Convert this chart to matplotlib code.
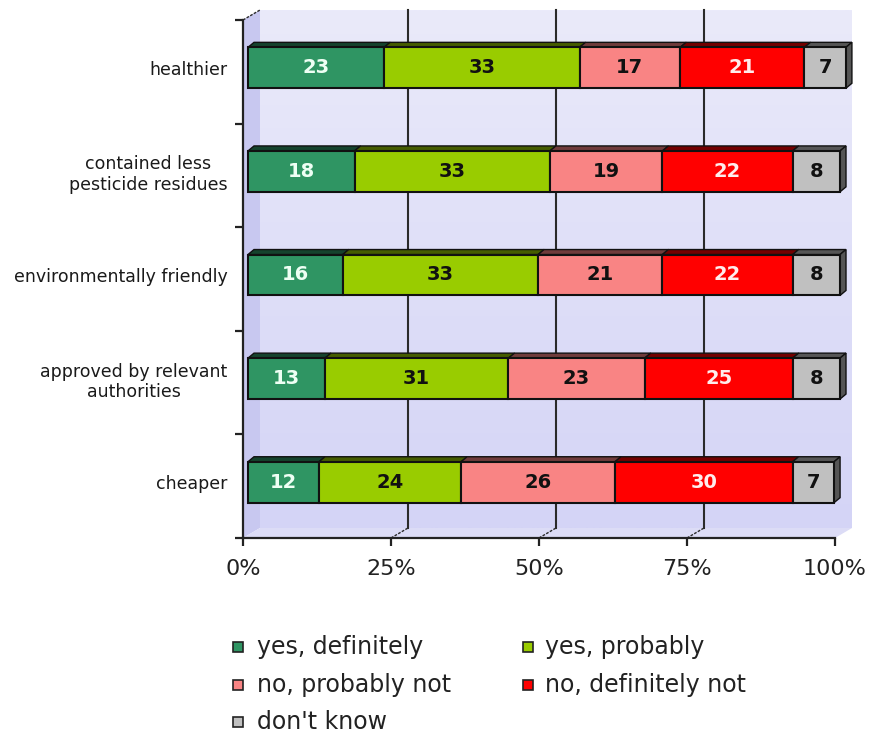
import numpy as np
import matplotlib

matplotlib.use("Agg")
import matplotlib.pyplot as plt
from matplotlib.patches import Polygon, Rectangle
from matplotlib.colors import to_rgb

# --- data -------------------------------------------------------------
categories = [
    "healthier",
    "contained less\npesticide residues",
    "environmentally friendly",
    "approved by relevant\nauthorities",
    "cheaper",
]
series_labels = [
    "yes, definitely",
    "yes, probably",
    "no, probably not",
    "no, definitely not",
    "don't know",
]
yes_definitely = [23, 18, 16, 13, 12]
yes_probably = [33, 33, 33, 31, 24]
no_probably_not = [17, 19, 21, 23, 26]
no_definitely_not = [21, 22, 22, 25, 30]
dont_know = [7, 8, 8, 8, 7]
x_ticks = [0, 25, 50, 75, 100]
x_tick_labels = ["0%", "25%", "50%", "75%", "100%"]

colors = ["#2f9563", "#99cc00", "#f98484", "#ff0000", "#c0c0c0"]
text_colors = ["#eefff4", "#111111", "#111111", "#ffecec", "#111111"]

# --- layout (pixel based) --------------------------------------------
W, H = 874, 733
X0, PX_PCT = 243.0, 5.92      # 0% of front axis, px per percent
Y0, PX_BAND = 20.0, 103.6     # top of front axis, px per category band
XLIM = (-5, 105)
YLIM = (5.2, -0.15)

fig = plt.figure(figsize=(W / 100, H / 100), dpi=100)
left_px = X0 + XLIM[0] * PX_PCT
right_px = X0 + XLIM[1] * PX_PCT
top_px = Y0 + YLIM[1] * PX_BAND
bot_px = Y0 + YLIM[0] * PX_BAND
ax = fig.add_axes([left_px / W, 1 - bot_px / H, (right_px - left_px) / W, (bot_px - top_px) / H])
ax.set_xlim(*XLIM)
ax.set_ylim(*YLIM)
ax.patch.set_visible(False)

n = len(categories)
# 3d offsets in data units
wall_dx, wall_dy = 17 / PX_PCT, -10 / PX_BAND
bar_dx, bar_dy = 5 / PX_PCT, -4 / PX_BAND
dep_dx, dep_dy = 6 / PX_PCT, -5 / PX_BAND
bar_h = 0.395

# back wall with a soft gradient
grad = np.linspace(0, 1, 256)[:, None]
top_c = np.array([234, 234, 250]) / 255
bot_c = np.array([212, 212, 246]) / 255
img = top_c[None, None, :] * (1 - grad[..., None]) + bot_c[None, None, :] * grad[..., None]
ax.imshow(img, extent=(wall_dx, 100 + wall_dx, n + wall_dy, wall_dy), aspect="auto", zorder=0)

# side wall and floor
ax.add_patch(Polygon([(0, 0), (wall_dx, wall_dy), (wall_dx, n + wall_dy), (0, n)],
                     closed=True, facecolor="#c8c8f0", edgecolor="none", zorder=1))
ax.add_patch(Polygon([(0, n), (wall_dx, n + wall_dy), (100 + wall_dx, n + wall_dy), (100, n)],
                     closed=True, facecolor="#dcdcf6", edgecolor="none", zorder=1))

# back grid lines and floor kinks
for p in x_ticks[1:-1]:
    ax.plot([p + wall_dx, p + wall_dx], [wall_dy, n + wall_dy], color="#2a2a2a", lw=1.5, zorder=2)
    ax.plot([p, p + wall_dx], [n, n + wall_dy], color="#2a2a2a", lw=1.0, ls=(0, (2, 1)), zorder=2)
ax.plot([0, wall_dx], [0, wall_dy], color="#2a2a2a", lw=1.0, ls=(0, (2, 1)), zorder=2)

# stacked bars
series = [yes_definitely, yes_probably, no_probably_not, no_definitely_not, dont_know]
ypos = np.arange(n) + 0.5 + bar_dy
cum = np.zeros(n)
for k, vals in enumerate(series):
    vals = np.array(vals, dtype=float)
    ax.barh(ypos, vals, left=cum + bar_dx, height=bar_h, color=colors[k],
            edgecolor="#111111", linewidth=1.5, zorder=4)
    shade = tuple(c * 0.45 for c in to_rgb(colors[k]))
    for i in range(n):
        x0 = cum[i] + bar_dx
        x1 = x0 + vals[i]
        yt = ypos[i] - bar_h / 2
        ax.add_patch(Polygon([(x0, yt), (x1, yt), (x1 + dep_dx, yt + dep_dy), (x0 + dep_dx, yt + dep_dy)],
                             closed=True, facecolor=shade, edgecolor="#111111", lw=1.0, zorder=3))
        if k == len(series) - 1:
            yb = ypos[i] + bar_h / 2
            ax.add_patch(Polygon([(x1, yt), (x1 + dep_dx, yt + dep_dy), (x1 + dep_dx, yb + dep_dy), (x1, yb)],
                                 closed=True, facecolor="#555555", edgecolor="#111111", lw=1.0, zorder=3))
        ax.text(x0 + vals[i] / 2, ypos[i], f"{int(vals[i])}", ha="center", va="center",
                fontsize=14, fontweight="bold", color=text_colors[k], zorder=5)
    cum += vals

# axes
for s in ("top", "right"):
    ax.spines[s].set_visible(False)
ax.spines["left"].set_position(("data", 0))
ax.spines["bottom"].set_position(("data", n))
ax.spines["left"].set_bounds(0, n)
ax.spines["bottom"].set_bounds(0, 100)
for s in ("left", "bottom"):
    ax.spines[s].set_color("#222222")
    ax.spines[s].set_linewidth(1.6)
    ax.spines[s].set_zorder(6)

ax.set_xticks(x_ticks, x_tick_labels)
ax.tick_params(axis="x", length=6, width=1.6, color="#222222", pad=9, labelsize=16, labelcolor="#222222")
ax.set_yticks(range(n + 1), [""] * (n + 1))
ax.tick_params(axis="y", which="major", length=6, width=1.6, color="#222222")
ax.set_yticks(ypos, categories, minor=True)
ax.tick_params(axis="y", which="minor", length=0, pad=11, labelsize=12.5, labelcolor="#1a1a1a")
for lbl in ax.get_yticklabels(minor=True):
    lbl.set_multialignment("center")
    lbl.set_linespacing(1.15)

# legend, laid out by hand in pixel positions
leg_cols = [(233, 257), (523, 545)]
leg_rows = [647, 685, 722]
order = [0, 2, 4, 1, 3]
for slot, k in enumerate(order):
    col, row = slot // 3, slot % 3
    sq_x, tx = leg_cols[col]
    cy = leg_rows[row]
    fig.patches.append(Rectangle((sq_x / W, 1 - (cy + 5) / H), 10 / W, 10 / H, transform=fig.transFigure,
                                 facecolor=colors[k], edgecolor="#222222", lw=1.2))
    fig.text(tx / W, 1 - cy / H, series_labels[k], ha="left", va="center", fontsize=17, color="#222222")

fig.savefig("out.png", dpi=100)
